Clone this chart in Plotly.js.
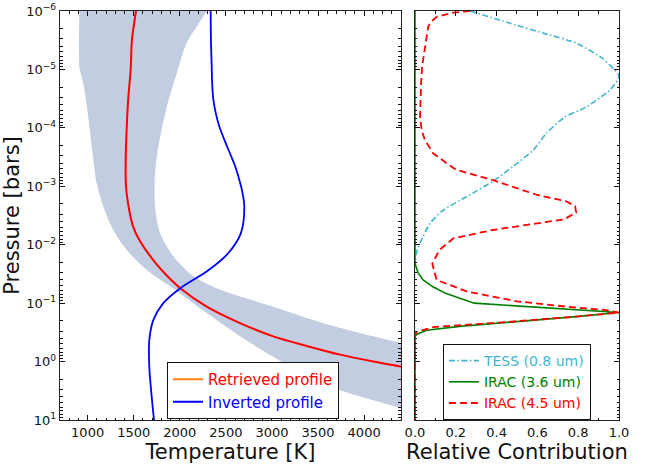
<!DOCTYPE html>
<html>
<head>
<meta charset="utf-8">
<script src="https://cdn.plot.ly/plotly-3.0.1.min.js"></script>
<style>html,body{margin:0;padding:0;background:#fff;}#chart{width:650px;height:469px;}</style>
</head>
<body>
<div id="chart"></div>
<script>
// ---- Retrieved T-P profile (red) ----
const retrievedP = [1e-6, 3.2e-6, 1e-5, 3.2e-5, 1e-4, 3.2e-4, 1e-3, 2.6e-3, 5.0e-3, 8.3e-3, 1.35e-2, 2.0e-2, 3.4e-2, 5.5e-2, 0.115, 0.22, 0.37, 0.54, 0.76, 1.0, 1.23, 1.41];
const retrievedT = [1525, 1480, 1467, 1440, 1424, 1413, 1416, 1452, 1495, 1561, 1649, 1731, 1861, 2002, 2292, 2653, 3014, 3377, 3738, 4100, 4407, 4600];

// ---- Inverted profile (blue) ----
const invertedP = [1e-6, 3.2e-6, 8.9e-6, 1.86e-5, 3.3e-5, 5.6e-5, 9.5e-5, 1.62e-4, 2.75e-4, 4.5e-4, 7.8e-4, 1.29e-3, 2.24e-3, 6.4e-3, 1.4e-2, 2.77e-2, 5.6e-2, 0.1, 0.195, 0.43, 1.23, 3.98, 10];
const invertedT = [2335, 2338, 2346, 2352, 2364, 2390, 2429, 2485, 2545, 2600, 2646, 2680, 2700, 2662, 2525, 2306, 2002, 1821, 1712, 1669, 1669, 1695, 1720];

// ---- Uncertainty band edges ----
const bandCoolP = [1e-6, 4.7e-6, 1e-5, 1.74e-5, 6.5e-5, 2.1e-4, 3.5e-4, 8.9e-4, 2.24e-3, 5.6e-3, 1.23e-2, 2.7e-2, 5.6e-2, 0.148, 0.37, 0.83, 1.82, 3.1, 4.6, 6.3, 7.9];
const bandCoolT = [910, 906, 914, 953, 1007, 1044, 1062, 1098, 1170, 1278, 1424, 1641, 1930, 2292, 2653, 3014, 3377, 3738, 4100, 4407, 4600];
const bandHotP = [1e-6, 1.86e-6, 3.5e-6, 1.17e-5, 4.4e-5, 2.1e-4, 6.0e-4, 2.24e-3, 6.3e-3, 1.58e-2, 3.3e-2, 5.75e-2, 0.115, 0.22, 0.37, 0.49, 0.6];
const bandHotT = [2292, 2183, 2075, 1966, 1858, 1767, 1731, 1731, 1785, 1930, 2130, 2420, 3014, 3557, 4100, 4407, 4600];

// ---- Contribution functions ----
const tessP = [1e-6, 1.62e-6, 2.4e-6, 3.55e-6, 6.5e-6, 1.32e-5, 2.24e-5, 4.4e-5, 6.5e-5, 1.23e-4, 2.4e-4, 4.6e-4, 8.3e-4, 1.51e-3, 2.57e-3, 4.3e-3, 7.2e-3, 1.2e-2, 2.1e-2, 10];
const tessC = [0.27, 0.466, 0.63, 0.79, 0.92, 1.0, 0.956, 0.84, 0.735, 0.645, 0.58, 0.48, 0.38, 0.253, 0.138, 0.074, 0.04, 0.012, 0.0, 0.0];

const irac36P = [1e-6, 2.1e-2, 3.0e-2, 4.0e-2, 5.25e-2, 6.8e-2, 0.1, 0.145, 0.17, 0.21, 0.25, 0.29, 0.34, 0.37, 10];
const irac36C = [0.0, 0.0, 0.015, 0.04, 0.088, 0.15, 0.29, 1.0, 0.79, 0.466, 0.22, 0.057, 0.01, 0.0, 0.0];

const irac45P = [1e-6, 1.07e-6, 1.26e-6, 1.58e-6, 1.86e-6, 4.7e-6, 8.9e-6, 1.74e-5, 6.5e-5, 1.1e-4, 1.62e-4, 2.75e-4, 5.2e-4, 7.8e-4, 1.41e-3, 1.82e-3, 2.2e-3, 2.8e-3, 3.7e-3, 4.3e-3, 5.6e-3, 7.8e-3, 1.23e-2, 2.1e-2, 4.0e-2, 6.3e-2, 9.3e-2, 0.115, 0.132, 0.145, 0.17, 0.21, 0.257, 0.31, 0.355, 10];
const irac45C = [0.27, 0.188, 0.106, 0.075, 0.065, 0.049, 0.035, 0.03, 0.025, 0.033, 0.049, 0.09, 0.2, 0.38, 0.6, 0.744, 0.785, 0.79, 0.73, 0.6, 0.38, 0.188, 0.12, 0.085, 0.106, 0.253, 0.5, 0.744, 0.94, 1.0, 0.79, 0.45, 0.09, 0.008, 0.0, 0.0];

// ---- Tick labels ----
const pressureTicks = [1e-6, 1e-5, 1e-4, 1e-3, 1e-2, 1e-1, 1, 10];
const pressureTickText = ['10<sup>−6</sup>', '10<sup>−5</sup>', '10<sup>−4</sup>', '10<sup>−3</sup>', '10<sup>−2</sup>', '10<sup>−1</sup>', '10<sup>0</sup>', '10<sup>1</sup>'];

const minorP = [];
for (let d = -6; d < 1; d++) { for (let k = 2; k < 10; k++) minorP.push(k * Math.pow(10, d)); }

const FONT = 'DejaVu Sans, sans-serif';

const traces = [
  { x: bandCoolT.concat(bandHotT.slice().reverse()), y: bandCoolP.concat(bandHotP.slice().reverse()),
    type: 'scatter', mode: 'lines', fill: 'toself', fillcolor: '#c2cde1',
    line: { width: 0, color: '#c2cde1', shape: 'spline', smoothing: 0.8 }, showlegend: false, hoverinfo: 'skip', xaxis: 'x', yaxis: 'y' },
  { x: retrievedT, y: retrievedP, type: 'scatter', mode: 'lines', line: { color: '#ff0000', width: 2, shape: 'spline', smoothing: 0.8 },
    showlegend: false, xaxis: 'x', yaxis: 'y' },
  { x: invertedT, y: invertedP, type: 'scatter', mode: 'lines', line: { color: '#0000ff', width: 1.8, shape: 'spline', smoothing: 1 },
    showlegend: false, xaxis: 'x', yaxis: 'y' },
  // legend entries (left)
  { x: [null], y: [null], type: 'scatter', mode: 'lines', line: { color: '#ff7f0e', width: 2 },
    name: '<span style="color:#ff0000">Retrieved profile</span>', legend: 'legend', xaxis: 'x', yaxis: 'y' },
  { x: [null], y: [null], type: 'scatter', mode: 'lines', line: { color: '#0000ff', width: 2 },
    name: '<span style="color:#0000ff">Inverted profile</span>', legend: 'legend', xaxis: 'x', yaxis: 'y' },
  // contribution functions (right)
  { x: tessC, y: tessP, type: 'scatter', mode: 'lines', line: { color: '#3fb6cf', width: 1.6, dash: '6px,2.5px,1.5px,2.5px', shape: 'spline', smoothing: 0.6 },
    name: '<span style="color:#3fb6cf">TESS (0.8 um)</span>', legend: 'legend2', xaxis: 'x2', yaxis: 'y2' },
  { x: irac36C, y: irac36P, type: 'scatter', mode: 'lines', line: { color: '#008000', width: 1.6 },
    name: '<span style="color:#008000">IRAC (3.6 um)</span>', legend: 'legend2', xaxis: 'x2', yaxis: 'y2' },
  { x: irac45C, y: irac45P, type: 'scatter', mode: 'lines', line: { color: '#ff0000', width: 1.8, dash: '7px,4px' },
    name: '<span style="color:#ff0000">IRAC (4.5 um)</span>', legend: 'legend2', xaxis: 'x2', yaxis: 'y2' }
];

const axisCommon = {
  showline: true, linecolor: '#222', linewidth: 1.3, mirror: 'allticks', ticks: 'inside', ticklen: 5, tickwidth: 1, tickcolor: '#111',
  showgrid: false, zeroline: false, tickfont: { family: FONT, size: 13, color: '#111' }
};

const layout = {
  width: 650, height: 469,
  margin: { l: 60, r: 31, t: 11, b: 49 },
  paper_bgcolor: '#fff', plot_bgcolor: '#fff',
  font: { family: FONT, color: '#111' },
  xaxis: Object.assign({}, axisCommon, {
    domain: [0, 0.61], range: [700, 4400], tick0: 0, dtick: 500, anchor: 'y',
    minor: { dtick: 100, ticks: 'inside', ticklen: 2.5, tickcolor: '#111' },
    title: { text: 'Temperature [K]', font: { family: FONT, size: 21, color: '#111' }, standoff: 4 }
  }),
  yaxis: Object.assign({}, axisCommon, {
    type: 'log', range: [1, -6], autorange: false, anchor: 'x',
    tickmode: 'array', tickvals: pressureTicks, ticktext: pressureTickText,
    minor: { tickmode: 'array', tickvals: minorP, ticks: 'inside', ticklen: 2.5, tickcolor: '#111' },
    title: { text: 'Pressure [bars]', font: { family: FONT, size: 21, color: '#111' }, standoff: 4 }
  }),
  xaxis2: Object.assign({}, axisCommon, {
    domain: [0.635, 1], range: [0, 1], tick0: 0, dtick: 0.2, tickformat: '.1f', anchor: 'y2',
    minor: { dtick: 0.1, ticks: 'inside', ticklen: 2.5, tickcolor: '#111' },
    title: { text: 'Relative Contribution', font: { family: FONT, size: 21, color: '#111' }, standoff: 4 }
  }),
  yaxis2: Object.assign({}, axisCommon, {
    type: 'log', range: [1, -6], autorange: false, anchor: 'x2', matches: 'y', showticklabels: false,
    tickmode: 'array', tickvals: pressureTicks,
    minor: { tickmode: 'array', tickvals: minorP, ticks: 'inside', ticklen: 2.5, tickcolor: '#111' }
  }),
  legend: { x: 0.1914, y: 0.1418, xanchor: 'left', yanchor: 'top', bgcolor: '#fff', bordercolor: '#111', borderwidth: 1,
    font: { family: FONT, size: 15 }, tracegroupgap: 0 },
  legend2: { x: 0.685, y: 0.1858, xanchor: 'left', yanchor: 'top', bgcolor: '#fff', bordercolor: '#111', borderwidth: 1,
    font: { family: FONT, size: 14 }, tracegroupgap: 0 },
  showlegend: true
};

Plotly.newPlot('chart', traces, layout, { displayModeBar: false, staticPlot: true });
</script>
</body>
</html>
